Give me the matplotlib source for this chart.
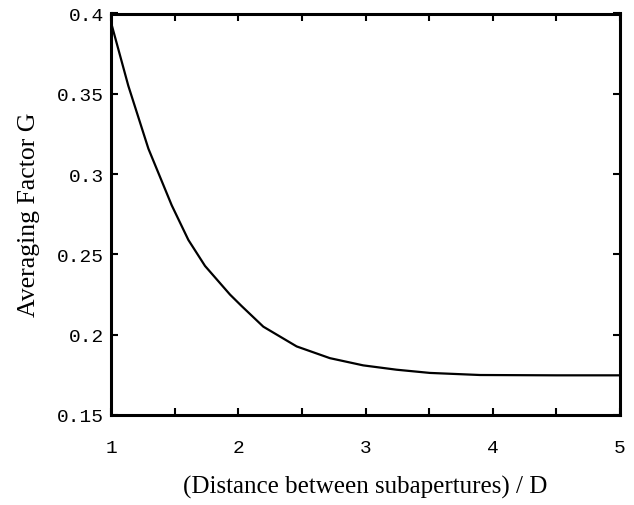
import matplotlib
matplotlib.use("Agg")
import matplotlib.pyplot as plt
from matplotlib.ticker import FixedLocator, FixedFormatter

# Data
dist = [1.0, 1.136, 1.294, 1.477, 1.608, 1.739, 1.935, 2.027, 2.197, 2.459,
        2.72, 2.982, 3.244, 3.506, 3.9, 4.5, 5.0]
gfac = [0.3945, 0.355, 0.3158, 0.2806, 0.2590, 0.2428, 0.2250, 0.2178, 0.2050,
        0.1927, 0.1854, 0.1809, 0.1782, 0.1762, 0.1749, 0.1747, 0.1747]

xticks = [1, 1.5, 2, 2.5, 3, 3.5, 4, 4.5, 5]
xticklabels = ["1", "", "2", "", "3", "", "4", "", "5"]
yticks = [0.15, 0.2, 0.25, 0.3, 0.35, 0.4]
yticklabels = ["0.15", "0.2", "0.25", "0.3", "0.35", "0.4"]

fig = plt.figure(figsize=(6.34, 5.06), dpi=100)
ax = fig.add_axes([111/634, 1 - 416/506, (620-111)/634, (416-14.5)/506])

ax.plot(dist, gfac, color="black", lw=1.6)
ax.set_xlim(1, 5)
ax.set_ylim(0.15, 0.4)

ax.xaxis.set_major_locator(FixedLocator(xticks))
ax.xaxis.set_major_formatter(FixedFormatter(xticklabels))
ax.yaxis.set_major_locator(FixedLocator(yticks))
ax.yaxis.set_major_formatter(FixedFormatter(yticklabels))

ax.tick_params(direction="in", length=5, width=1.5, top=True, right=True,
               labelsize=14, colors="black")
ax.tick_params(axis="x", pad=17)
ax.tick_params(axis="y", pad=5)
for lab in ax.get_xticklabels() + ax.get_yticklabels():
    lab.set_family("Liberation Mono")

for sp in ax.spines.values():
    sp.set_linewidth(2.2)

ax.set_xlabel("(Distance between subapertures) / D", fontsize=18,
              family="Liberation Serif", labelpad=14)
ax.set_ylabel("Averaging Factor G", fontsize=18.5,
              family="Liberation Serif", labelpad=12)

fig.savefig("out.png", dpi=100)
